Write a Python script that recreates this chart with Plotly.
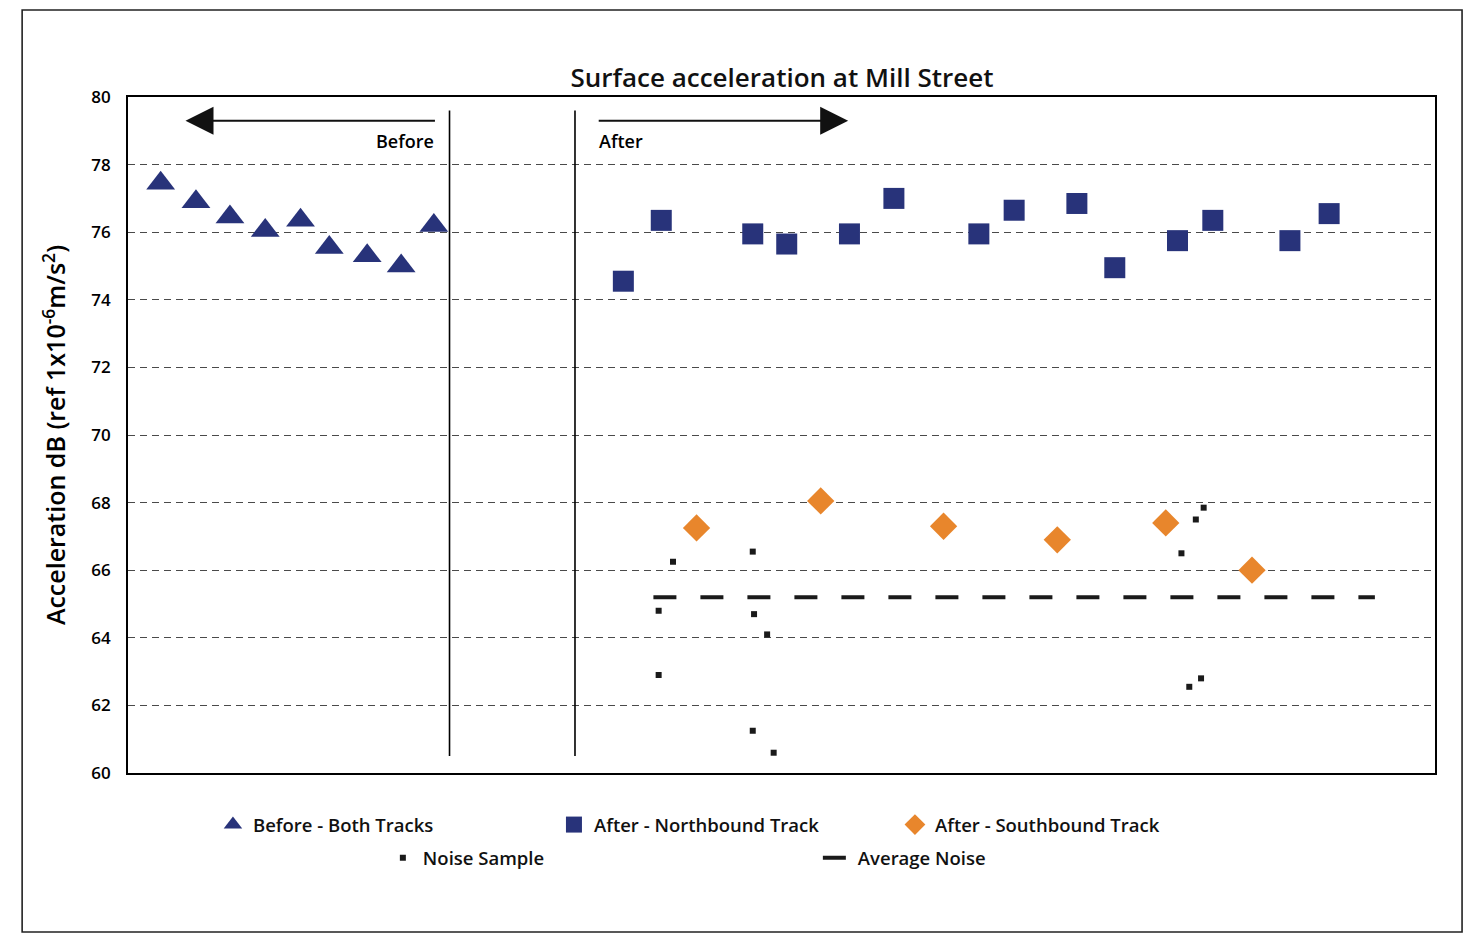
import plotly.graph_objects as go

# ---------------- data ----------------
before_x = [2.5, 5.2, 7.8, 10.5, 13.2, 15.4, 18.3, 20.9, 23.4]
before_y = [77.45, 76.9, 76.45, 76.05, 76.35, 75.55, 75.3, 75.0, 76.2]

north_x = [37.9, 40.8, 47.8, 50.4, 55.2, 58.6, 65.1, 67.8, 72.6, 75.5, 80.3, 83.0, 88.9, 91.9]
north_y = [74.55, 76.35, 75.95, 75.65, 75.95, 77.0, 75.95, 76.65, 76.85, 74.95, 75.75, 76.35, 75.75, 76.55]

south_x = [43.5, 53.0, 62.4, 71.1, 79.4, 86.0]
south_y = [67.25, 68.05, 67.3, 66.9, 67.4, 66.0]

noise_x = [41.7, 40.6, 40.6, 47.8, 47.9, 48.9, 47.8, 49.4, 82.3, 81.7, 80.6, 82.1, 81.2]
noise_y = [66.25, 64.8, 62.9, 66.55, 64.7, 64.1, 61.25, 60.6, 67.85, 67.5, 66.5, 62.8, 62.55]

avg_noise_x = [40.2, 95.4]
avg_noise_level = 65.2

y_ticks = [60, 62, 64, 66, 68, 70, 72, 74, 76, 78, 80]

before_divider_x = 24.6
after_divider_x = 34.2

NAVY = "#28337A"
ORANGE = "#E8862C"
FONT = "Open Sans"

fig = go.Figure()

fig.add_trace(go.Scatter(
    x=before_x, y=before_y, mode="markers", name="Before - Both Tracks",
    marker=dict(symbol="triangle-up", size=25, color=NAVY), legend="legend"))
fig.add_trace(go.Scatter(
    x=north_x, y=north_y, mode="markers", name="After - Northbound Track",
    marker=dict(symbol="square", size=21, color=NAVY), legend="legend"))
fig.add_trace(go.Scatter(
    x=south_x, y=south_y, mode="markers", name="After - Southbound Track",
    marker=dict(symbol="diamond", size=21, color=ORANGE), legend="legend"))
fig.add_trace(go.Scatter(
    x=noise_x, y=noise_y, mode="markers", name="Noise Sample",
    marker=dict(symbol="square", size=6, color="#1a1a1a"), legend="legend2"))
fig.add_trace(go.Scatter(
    x=avg_noise_x, y=[avg_noise_level] * len(avg_noise_x), mode="lines", name="Average Noise",
    line=dict(color="#1a1a1a", width=4, dash="23px,24px"), legend="legend2"))

# Before / After divider lines
for xv in (before_divider_x, after_divider_x):
    fig.add_shape(type="line", xref="x", yref="y", x0=xv, x1=xv, y0=60.5, y1=79.6,
                  line=dict(color="black", width=1.6))

# arrows
fig.add_annotation(x=4.4, y=79.3, ax=23.6, ay=79.3, xref="x", yref="y", axref="x", ayref="y",
                   showarrow=True, arrowhead=2, arrowsize=2.8, arrowwidth=2, arrowcolor="#111", text="")
fig.add_annotation(x=55.1, y=79.3, ax=35.9, ay=79.3, xref="x", yref="y", axref="x", ayref="y",
                   showarrow=True, arrowhead=2, arrowsize=2.8, arrowwidth=2, arrowcolor="#111", text="")
fig.add_annotation(x=23.6, y=78.7, xref="x", yref="y", text="Before", showarrow=False,
                   xanchor="right", font=dict(family=FONT, size=18, color="black", weight=600))
fig.add_annotation(x=35.9, y=78.7, xref="x", yref="y", text="After", showarrow=False,
                   xanchor="left", font=dict(family=FONT, size=18, color="black", weight=600))

# outer frame
fig.add_shape(type="rect", xref="paper", yref="paper", x0=-0.081, x1=1.0207, y0=-0.2352, y1=1.1287,
              line=dict(color="#222", width=1.6), layer="below")

fig.update_layout(
    width=1466, height=928,
    margin=dict(l=120, r=39, t=89, b=163),
    paper_bgcolor="white", plot_bgcolor="white",
    font=dict(family=FONT, color="black"),
    title=dict(text="Surface acceleration at Mill Street", x=(782 - 128) / 1307 * (1307 / 1466) + 120 / 1466,
               xanchor="center", y=1 - 70 / 928, yanchor="middle",
               font=dict(family=FONT, size=26, color="#111", weight=600)),
    xaxis=dict(range=[0, 100], showgrid=False, zeroline=False, showticklabels=False, ticks="",
               showline=True, linecolor="black", linewidth=1.8, mirror=True),
    yaxis=dict(range=[60, 80], tickvals=y_ticks, showgrid=True, gridcolor="#4a4a4a",
               griddash="7px,5px", gridwidth=1.1, zeroline=False, ticks="",
               ticklabelstandoff=12,
               tickfont=dict(family=FONT, size=17, color="black", weight=600),
               showline=True, linecolor="black", linewidth=1.8, mirror=True,
               title=dict(text="Acceleration dB (ref 1x10<sup>-6</sup>m/s<sup>2</sup>)", standoff=18,
                          font=dict(family=FONT, size=25, color="black", weight=600))),
    legend=dict(orientation="h", x=0.065, xanchor="left", y=-0.077, yanchor="middle",
                entrywidth=296, entrywidthmode="pixels",
                font=dict(family=FONT, size=18.5, color="#111", weight=600),
                bgcolor="rgba(0,0,0,0)"),
    legend2=dict(orientation="h", x=0.195, xanchor="left", y=-0.126, yanchor="middle",
                 entrywidth=390, entrywidthmode="pixels",
                 font=dict(family=FONT, size=18.5, color="#111", weight=600),
                 bgcolor="rgba(0,0,0,0)"),
    showlegend=True,
)

fig.write_html("out.html")
